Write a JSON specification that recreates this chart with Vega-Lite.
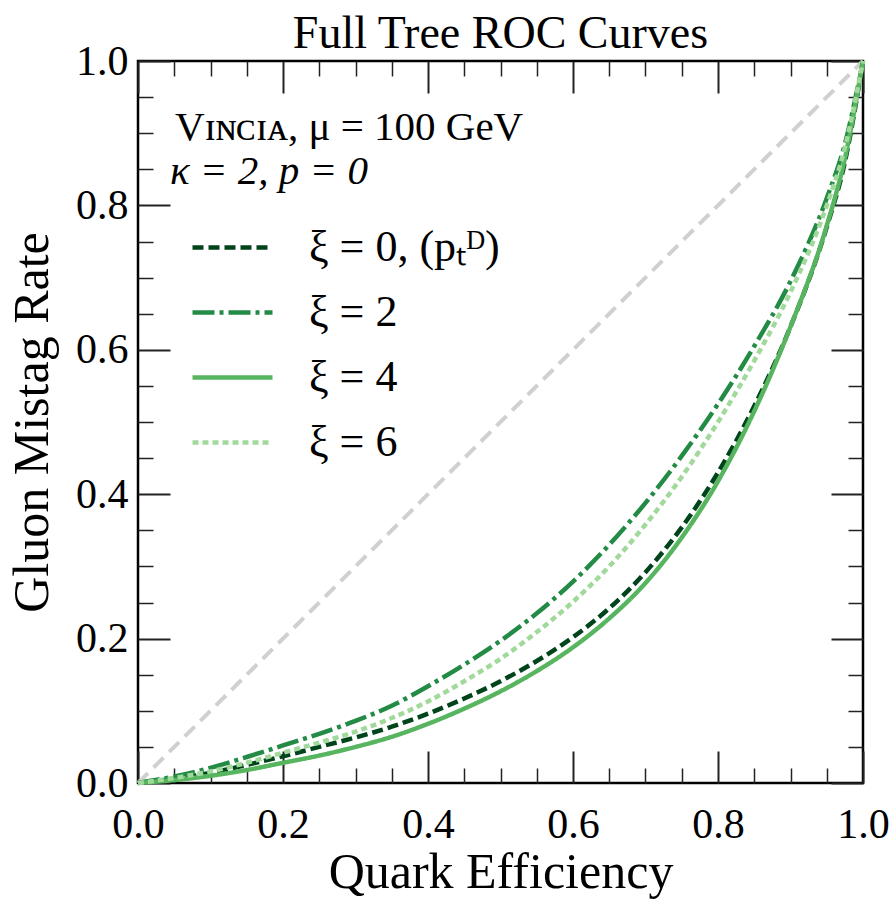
{
  "$schema": "https://vega.github.io/schema/vega-lite/v6.json",
  "width": 725,
  "height": 722,
  "autosize": {"type": "none"},
  "padding": {"left": 138, "top": 61, "right": 31, "bottom": 119},
  "background": "white",
  "title": {"text": "Full Tree ROC Curves", "font": "Liberation Serif", "fontSize": 46, "fontWeight": "normal", "color": "black", "offset": 12, "dy": 30, "anchor": "middle"},
  "datasets": {
    "diag": [{"x": 0, "y": 0}, {"x": 1, "y": 1}],
    "curves": [
      {"xi": "ξ = 0, (pₜᴰ)", "eff": 0, "mis": 0},
      {"xi": "ξ = 0, (pₜᴰ)", "eff": 0.05, "mis": 0.006},
      {"xi": "ξ = 0, (pₜᴰ)", "eff": 0.1, "mis": 0.014},
      {"xi": "ξ = 0, (pₜᴰ)", "eff": 0.15, "mis": 0.025},
      {"xi": "ξ = 0, (pₜᴰ)", "eff": 0.2, "mis": 0.037},
      {"xi": "ξ = 0, (pₜᴰ)", "eff": 0.25, "mis": 0.05},
      {"xi": "ξ = 0, (pₜᴰ)", "eff": 0.3, "mis": 0.063},
      {"xi": "ξ = 0, (pₜᴰ)", "eff": 0.35, "mis": 0.078},
      {"xi": "ξ = 0, (pₜᴰ)", "eff": 0.4, "mis": 0.096},
      {"xi": "ξ = 0, (pₜᴰ)", "eff": 0.45, "mis": 0.117},
      {"xi": "ξ = 0, (pₜᴰ)", "eff": 0.5, "mis": 0.141},
      {"xi": "ξ = 0, (pₜᴰ)", "eff": 0.55, "mis": 0.169},
      {"xi": "ξ = 0, (pₜᴰ)", "eff": 0.6, "mis": 0.202},
      {"xi": "ξ = 0, (pₜᴰ)", "eff": 0.65, "mis": 0.242},
      {"xi": "ξ = 0, (pₜᴰ)", "eff": 0.7, "mis": 0.292},
      {"xi": "ξ = 0, (pₜᴰ)", "eff": 0.75, "mis": 0.354},
      {"xi": "ξ = 0, (pₜᴰ)", "eff": 0.8, "mis": 0.43},
      {"xi": "ξ = 0, (pₜᴰ)", "eff": 0.85, "mis": 0.522},
      {"xi": "ξ = 0, (pₜᴰ)", "eff": 0.9, "mis": 0.632},
      {"xi": "ξ = 0, (pₜᴰ)", "eff": 0.95, "mis": 0.77},
      {"xi": "ξ = 0, (pₜᴰ)", "eff": 0.975, "mis": 0.86},
      {"xi": "ξ = 0, (pₜᴰ)", "eff": 1, "mis": 1},
      {"xi": "ξ = 2", "eff": 0, "mis": 0},
      {"xi": "ξ = 2", "eff": 0.05, "mis": 0.009},
      {"xi": "ξ = 2", "eff": 0.1, "mis": 0.021},
      {"xi": "ξ = 2", "eff": 0.15, "mis": 0.036},
      {"xi": "ξ = 2", "eff": 0.2, "mis": 0.052},
      {"xi": "ξ = 2", "eff": 0.25, "mis": 0.068},
      {"xi": "ξ = 2", "eff": 0.3, "mis": 0.086},
      {"xi": "ξ = 2", "eff": 0.35, "mis": 0.107},
      {"xi": "ξ = 2", "eff": 0.4, "mis": 0.134},
      {"xi": "ξ = 2", "eff": 0.45, "mis": 0.164},
      {"xi": "ξ = 2", "eff": 0.5, "mis": 0.197},
      {"xi": "ξ = 2", "eff": 0.55, "mis": 0.235},
      {"xi": "ξ = 2", "eff": 0.6, "mis": 0.279},
      {"xi": "ξ = 2", "eff": 0.65, "mis": 0.33},
      {"xi": "ξ = 2", "eff": 0.7, "mis": 0.388},
      {"xi": "ξ = 2", "eff": 0.75, "mis": 0.453},
      {"xi": "ξ = 2", "eff": 0.8, "mis": 0.525},
      {"xi": "ξ = 2", "eff": 0.85, "mis": 0.605},
      {"xi": "ξ = 2", "eff": 0.9, "mis": 0.695},
      {"xi": "ξ = 2", "eff": 0.95, "mis": 0.81},
      {"xi": "ξ = 2", "eff": 0.975, "mis": 0.885},
      {"xi": "ξ = 2", "eff": 1, "mis": 1},
      {"xi": "ξ = 4", "eff": 0, "mis": 0},
      {"xi": "ξ = 4", "eff": 0.05, "mis": 0.004},
      {"xi": "ξ = 4", "eff": 0.1, "mis": 0.01},
      {"xi": "ξ = 4", "eff": 0.15, "mis": 0.018},
      {"xi": "ξ = 4", "eff": 0.2, "mis": 0.028},
      {"xi": "ξ = 4", "eff": 0.25, "mis": 0.038},
      {"xi": "ξ = 4", "eff": 0.3, "mis": 0.05},
      {"xi": "ξ = 4", "eff": 0.35, "mis": 0.064},
      {"xi": "ξ = 4", "eff": 0.4, "mis": 0.082},
      {"xi": "ξ = 4", "eff": 0.45, "mis": 0.103},
      {"xi": "ξ = 4", "eff": 0.5, "mis": 0.127},
      {"xi": "ξ = 4", "eff": 0.55, "mis": 0.155},
      {"xi": "ξ = 4", "eff": 0.6, "mis": 0.188},
      {"xi": "ξ = 4", "eff": 0.65, "mis": 0.228},
      {"xi": "ξ = 4", "eff": 0.7, "mis": 0.277},
      {"xi": "ξ = 4", "eff": 0.75, "mis": 0.34},
      {"xi": "ξ = 4", "eff": 0.8, "mis": 0.418},
      {"xi": "ξ = 4", "eff": 0.85, "mis": 0.515},
      {"xi": "ξ = 4", "eff": 0.9, "mis": 0.632},
      {"xi": "ξ = 4", "eff": 0.95, "mis": 0.772},
      {"xi": "ξ = 4", "eff": 0.975, "mis": 0.865},
      {"xi": "ξ = 4", "eff": 1, "mis": 1},
      {"xi": "ξ = 6", "eff": 0, "mis": 0},
      {"xi": "ξ = 6", "eff": 0.05, "mis": 0.007},
      {"xi": "ξ = 6", "eff": 0.1, "mis": 0.016},
      {"xi": "ξ = 6", "eff": 0.15, "mis": 0.028},
      {"xi": "ξ = 6", "eff": 0.2, "mis": 0.042},
      {"xi": "ξ = 6", "eff": 0.25, "mis": 0.056},
      {"xi": "ξ = 6", "eff": 0.3, "mis": 0.071},
      {"xi": "ξ = 6", "eff": 0.35, "mis": 0.09},
      {"xi": "ξ = 6", "eff": 0.4, "mis": 0.113},
      {"xi": "ξ = 6", "eff": 0.45, "mis": 0.141},
      {"xi": "ξ = 6", "eff": 0.5, "mis": 0.172},
      {"xi": "ξ = 6", "eff": 0.55, "mis": 0.209},
      {"xi": "ξ = 6", "eff": 0.6, "mis": 0.251},
      {"xi": "ξ = 6", "eff": 0.65, "mis": 0.3},
      {"xi": "ξ = 6", "eff": 0.7, "mis": 0.358},
      {"xi": "ξ = 6", "eff": 0.75, "mis": 0.424},
      {"xi": "ξ = 6", "eff": 0.8, "mis": 0.5},
      {"xi": "ξ = 6", "eff": 0.85, "mis": 0.585},
      {"xi": "ξ = 6", "eff": 0.9, "mis": 0.68},
      {"xi": "ξ = 6", "eff": 0.95, "mis": 0.8},
      {"xi": "ξ = 6", "eff": 0.975, "mis": 0.88},
      {"xi": "ξ = 6", "eff": 1, "mis": 1}
    ],
    "note1": [{"label": "Vɪɴᴄɪᴀ, μ = 100 GeV"}],
    "note2": [{"label": "κ = 2, p = 0"}]
  },
  "layer": [
    {
      "data": {"name": "diag"},
      "mark": {"type": "line", "color": "#d0d0d0", "strokeWidth": 4, "strokeDash": [14, 8]},
      "encoding": {
        "x": {"field": "x", "type": "quantitative", "scale": {"domain": [0, 1], "nice": false, "zero": false},
          "axis": {"orient": "bottom", "values": [0, 0.2, 0.4, 0.6, 0.8, 1], "format": ".1f", "tickSize": -32, "tickWidth": 2, "labelPadding": 53, "title": "Quark Efficiency", "titlePadding": 2}},
        "y": {"field": "y", "type": "quantitative", "scale": {"domain": [0, 1], "nice": false, "zero": false},
          "axis": {"orient": "left", "values": [0, 0.2, 0.4, 0.6, 0.8, 1], "format": ".1f", "tickSize": -32, "tickWidth": 2, "labelPadding": 42, "title": "Gluon Mistag Rate", "titlePadding": 18}}
      }
    },
    {
      "data": {"name": "curves"},
      "mark": {"type": "line", "interpolate": "monotone"},
      "encoding": {
        "x": {"field": "eff", "type": "quantitative",
          "axis": {"orient": "bottom", "values": [0.05, 0.1, 0.15, 0.25, 0.3, 0.35, 0.45, 0.5, 0.55, 0.65, 0.7, 0.75, 0.85, 0.9, 0.95], "tickSize": -15, "tickWidth": 1.5, "labels": false, "title": null}},
        "y": {"field": "mis", "type": "quantitative",
          "axis": {"orient": "left", "values": [0.05, 0.1, 0.15, 0.25, 0.3, 0.35, 0.45, 0.5, 0.55, 0.65, 0.7, 0.75, 0.85, 0.9, 0.95], "tickSize": -15, "tickWidth": 1.5, "labels": false, "title": null}},
        "color": {"field": "xi", "type": "nominal",
          "scale": {"domain": ["ξ = 0, (pₜᴰ)", "ξ = 2", "ξ = 4", "ξ = 6"], "range": ["#00441b", "#238b45", "#57b45f", "#a1d99b"]},
          "legend": {"orient": "none", "legendX": 52, "legendY": 144, "title": null}},
        "strokeDash": {"field": "xi", "type": "nominal",
          "scale": {"domain": ["ξ = 0, (pₜᴰ)", "ξ = 2", "ξ = 4", "ξ = 6"], "range": [[11, 5], [22, 5, 4, 5], [1, 0], [6, 4]]},
          "legend": {"orient": "none", "legendX": 52, "legendY": 144, "title": null}},
        "strokeWidth": {"field": "xi", "type": "ordinal",
          "scale": {"domain": ["ξ = 0, (pₜᴰ)", "ξ = 2", "ξ = 4", "ξ = 6"], "range": [4.5, 4.5, 4.5, 7]},
          "legend": {"orient": "none", "legendX": 52, "legendY": 144, "title": null}}
      }
    },
    {
      "data": {"name": "note1"},
      "mark": {"type": "text", "align": "left", "baseline": "alphabetic", "font": "Liberation Serif", "fontSize": 41, "color": "black"},
      "encoding": {
        "text": {"field": "label", "type": "nominal"},
        "x": {"datum": 0.051, "type": "quantitative",
          "axis": {"orient": "top", "values": [0, 0.2, 0.4, 0.6, 0.8, 1], "tickSize": -32, "tickWidth": 2, "labels": false, "title": null}},
        "y": {"datum": 0.89, "type": "quantitative",
          "axis": {"orient": "right", "values": [0, 0.2, 0.4, 0.6, 0.8, 1], "tickSize": -32, "tickWidth": 2, "labels": false, "title": null}}
      }
    },
    {
      "data": {"name": "note2"},
      "mark": {"type": "text", "align": "left", "baseline": "alphabetic", "font": "Liberation Serif", "fontSize": 41, "fontStyle": "italic", "color": "black"},
      "encoding": {
        "text": {"field": "label", "type": "nominal"},
        "x": {"datum": 0.044, "type": "quantitative",
          "axis": {"orient": "top", "values": [0.05, 0.1, 0.15, 0.25, 0.3, 0.35, 0.45, 0.5, 0.55, 0.65, 0.7, 0.75, 0.85, 0.9, 0.95], "tickSize": -15, "tickWidth": 1.5, "labels": false, "title": null}},
        "y": {"datum": 0.83, "type": "quantitative",
          "axis": {"orient": "right", "values": [0.05, 0.1, 0.15, 0.25, 0.3, 0.35, 0.45, 0.5, 0.55, 0.65, 0.7, 0.75, 0.85, 0.9, 0.95], "tickSize": -15, "tickWidth": 1.5, "labels": false, "title": null}}
      }
    }
  ],
  "resolve": {"axis": {"x": "independent", "y": "independent"}},
  "config": {
    "view": {"stroke": "black", "strokeWidth": 2.5},
    "axis": {"domain": false, "grid": false, "tickColor": "#222222", "labelFont": "Liberation Serif", "labelFontSize": 42, "labelColor": "black", "labelOverlap": false, "labelFlush": false, "titleFont": "Liberation Serif", "titleFontSize": 50, "titleFontWeight": "normal", "titleColor": "black"},
    "legend": {"labelFont": "Liberation Serif", "labelFontSize": 44, "labelColor": "black", "symbolType": "stroke", "symbolSize": 6400, "labelOffset": 34, "rowPadding": -4, "labelLimit": 400}
  }
}
